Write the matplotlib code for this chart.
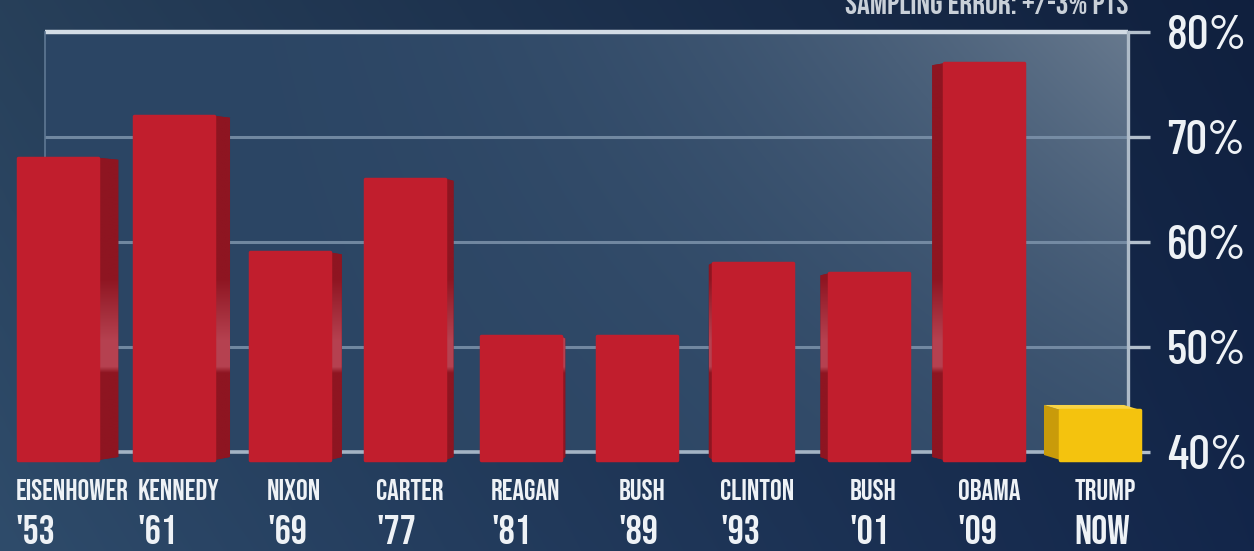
import numpy as np
import matplotlib
matplotlib.use("Agg")
import matplotlib.pyplot as plt
from matplotlib.patches import Polygon, Rectangle
from matplotlib.colors import to_rgb

plt.rcParams["font.family"] = ["Bebas Neue", "DejaVu Sans"]

presidents = ["EISENHOWER", "KENNEDY", "NIXON", "CARTER", "REAGAN",
              "BUSH", "CLINTON", "BUSH", "OBAMA", "TRUMP"]
years = ["'53", "'61", "'69", "'77", "'81", "'89", "'93", "'01", "'09", "NOW"]
approval = [68, 72, 59, 66, 51, 51, 58, 57, 77, 44]
yticks = [40, 50, 60, 70, 80]
ytick_labels = ["40%", "50%", "60%", "70%", "80%"]
note = "SAMPLING ERROR: +/-3% PTS"

W, H = 1254, 551
fig = plt.figure(figsize=(W / 100, H / 100), dpi=100)

# navy backdrop, lighter on the left
bg = fig.add_axes([0, 0, 1, 1], zorder=-10)
bg.axis("off")
gx = np.linspace(0, 1, 400)[None, :]
gy = np.linspace(0, 1, 200)[:, None]
c_left, c_right = np.array(to_rgb("#2f4c6b")), np.array(to_rgb("#13264a"))
t = np.clip(gx ** 0.9, 0, 1)[..., None]
img = c_left * (1 - t) + c_right * t
img = img * (0.84 + 0.16 * gy)[..., None]
bg.imshow(np.clip(img, 0, 1), extent=[0, 1, 0, 1], aspect="auto", interpolation="bicubic")

# chart frame geometry (pixels)
x0_px, x1_px = 45, 1128
y80_px, y40_px = 31.7, 452.0
slot_px, first_px = 115.8, 58.0
ppy = (y40_px - y80_px) / 40.0
ylo, yhi = 38.6, 80.6
top_px = y80_px - (yhi - 80) * ppy
bot_px = y40_px + (40 - ylo) * ppy
ax = fig.add_axes([x0_px / W, 1 - bot_px / H, (x1_px - x0_px) / W, (bot_px - top_px) / H])
xl, xr = (x0_px - first_px) / slot_px, (x1_px - first_px) / slot_px
ax.set_xlim(xl, xr)
ax.set_ylim(ylo, yhi)
ax.patch.set_alpha(0)
for s in ax.spines.values():
    s.set_visible(False)
ax.set_xticks([])

# translucent panel with a glow toward the upper right
px = np.linspace(0, 1, 400)[None, :]
py = np.linspace(1, 0, 200)[:, None]
w = (np.clip(px, 0, 1) ** 2.6 * (0.25 + 0.75 * py ** 1.3))[..., None]
p_base, p_glow = np.array(to_rgb("#2b4564")), np.array(to_rgb("#67798e"))
panel = p_base * (1 - w) + p_glow * w
ax.imshow(panel, extent=[xl, xr, 40, 80], aspect="auto", interpolation="bicubic", zorder=0)

for v in [50, 60, 70]:
    ax.axhline(v, color="#7d93ab", lw=2.2, alpha=0.85, zorder=1)
ax.axhline(40, color="#a3b3c4", lw=2.6, zorder=1)
ax.plot([xl, xr], [80, 80], color="#d3dce5", lw=3.2, zorder=1, clip_on=False, solid_capstyle="butt")
ax.plot([xl, xl], [40, 80], color="#5f7893", lw=1.2, zorder=1, clip_on=False)
ax.plot([xr, xr], [40, 80], color="#aebbc8", lw=2.4, zorder=1, clip_on=False)

# bars with a perspective side face
bar_w = 80 / slot_px
base = 40 - 8 / ppy
vp = 5.0
red, red_side = "#c11e2d", "#8a121f"


def side_image(lo, hi, dark, light):
    vals = np.linspace(hi, lo, 300)
    glow = np.clip((vals - 47.5) / 0.6, 0, 1) * np.clip((56.5 - vals) / 6.0, 0, 1) * 0.7
    col = np.array(to_rgb(dark))[None, :] * (1 - glow[:, None]) + np.array(to_rgb(light))[None, :] * glow[:, None]
    return col[:, None, :]


for i, v in enumerate(approval):
    left, right = i - bar_w / 2, i + bar_w / 2
    s = 0.035 * (vp - i)
    is_now = i == len(approval) - 1
    face = "#f4c30e" if is_now else red
    if is_now:
        t_off = 5 / ppy
        side = Polygon([(left, base), (left, v), (left + s, v + t_off), (left + s, base + t_off)],
                       closed=True, fc="#c99b0a", ec="none", zorder=3, clip_on=False)
        ax.add_patch(side)
        top = Polygon([(left, v), (right, v), (right + s, v + t_off), (left + s, v + t_off)],
                      closed=True, fc="#f9d445", ec="none", zorder=3, clip_on=False)
        ax.add_patch(top)
    elif abs(s) > 1e-6:
        edge = right if s > 0 else left
        t_off = -2 / ppy
        poly = Polygon([(edge, base), (edge, v), (edge + s, v + t_off), (edge + s, base + 3 / ppy)],
                       closed=True, fc=red_side, ec="none", zorder=3, clip_on=False)
        ax.add_patch(poly)
        x_a, x_b = sorted([edge, edge + s])
        im = ax.imshow(side_image(base, v, "#8e1521", "#c75565"), extent=[x_a, x_b, base, v],
                       aspect="auto", zorder=3.1, interpolation="bilinear")
        im.set_clip_path(poly)
    ax.add_patch(Rectangle((left, base), bar_w, v - base, fc=face, ec=face, lw=2.5,
                           joinstyle="round", zorder=4, clip_on=False))

# right-hand percentage scale
ax.yaxis.tick_right()
ax.set_yticks(yticks)
ax.set_yticklabels(ytick_labels)
ax.tick_params(axis="y", length=16, width=2.4, color="#b3bfcc", pad=12,
               labelcolor="#eef2f6", labelsize=35)
for lbl in ax.get_yticklabels():
    lbl.set_fontfamily(["Barlow Condensed", "DejaVu Sans"])
    lbl.set_fontweight("medium")

# president names with the year underneath
name_y = 40 - (490 - y40_px) / ppy
year_y = 40 - (530 - y40_px) / ppy
for i, (name, yr) in enumerate(zip(presidents, years)):
    if i == 0:
        txt = ax.text(i - bar_w / 2 - 0.02, name_y, name, ha="left", va="center",
                      fontsize=21, color="#eef2f6")
    else:
        txt = ax.text(i + 0.04, name_y, name, ha="center", va="center",
                      fontsize=21, color="#eef2f6")
    ax.annotate(yr, xy=(0, year_y), xycoords=(txt, "data"), ha="left", va="center",
                fontsize=29, color="#eef2f6", annotation_clip=False)

fig.text(x1_px / W, 1 - 14 / H, note, ha="right", va="baseline", fontsize=23,
         color="#c9d0d8")

fig.savefig("out.png", dpi=100)
